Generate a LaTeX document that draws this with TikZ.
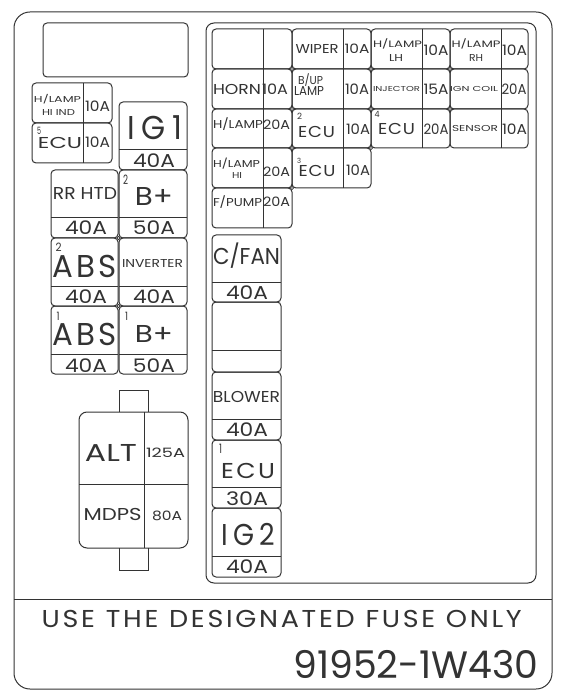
\documentclass[tikz,border=0pt]{standalone}
\usepackage{graphicx}
\usepackage{fontspec}
\setmainfont{Poppins}
\newcommand{\fs}[1]{\fontsize{#1}{#1}\selectfont}
\tikzset{
  fuse/.style={rounded corners=4pt},
  lbl/.style={inner sep=0pt, anchor=base},
  joint/.style={fill=white, line width=0.7pt},
}
% text fitted to width w and cap height h, baseline at (x,y)
\newcommand{\T}[6]{\node[lbl] (#1) at (#2,#3) {\resizebox{#4pt}{#5pt}{\fs{10}\smash{#6}\vphantom{H}}};}
% horizontal fuse cell: x1, xd, x2, y1, y2
\newcommand{\HF}[5]{%
  \draw[fuse] (#1,#4) rectangle (#3,#5);
  \draw (#2,#4) -- (#2,#5);
}
% vertical fuse cell: x1, x2, y1, yd, y2
\newcommand{\VF}[5]{%
  \draw[fuse] (#1,#3) rectangle (#2,#5);
  \draw (#1,#4) -- (#2,#4);
}
\begin{document}
\begin{tikzpicture}[x=1pt,y=-1pt,line width=1pt,color=black!80]
\useasboundingbox (0,0) rectangle (562,700);
\fill[white] (0,0) rectangle (562,700);
% outer label
\draw[rounded corners=16pt] (14,12) rectangle (552,689);
\draw (14,599) -- (552,599);
\T{warn}{281.7}{627.3}{480}{17}{U\kern1pt S\kern1pt E\kern4pt T\kern1pt H\kern1pt E\kern4pt D\kern1pt E\kern1pt S\kern1pt I\kern1pt G\kern1pt N\kern1pt A\kern1pt T\kern1pt E\kern1pt D\kern4pt F\kern1pt U\kern1pt S\kern1pt E\kern4pt O\kern1pt N\kern1pt L\kern1pt Y}
\T{code}{415.8}{678.3}{245}{26.6}{91952-1W430}
% top-left empty
\draw[fuse] (43,23) rectangle (188,77);
% left small block
\HF{32}{83}{112}{83}{123}
\HF{32}{83}{112}{123}{163}
\T{hla}{57.5}{102.7}{47}{6}{H/LAMP}
\T{hlb}{58.5}{116}{33}{6}{HI IND}
\T{hlv}{97.5}{112}{25}{10}{10A}
\T{ecuf}{60}{149}{44}{11}{ECU}
\T{sf}{39}{135}{4}{7}{5}
\T{ecufv}{97.5}{148}{25}{10}{10A}
% IG1 and pairs
\VF{119}{187}{102}{150}{170}
\VF{51}{118}{170}{218}{238}
\VF{119}{187}{170}{218}{238}
\VF{51}{118}{238}{286}{306}
\VF{119}{187}{238}{286}{306}
\VF{51}{118}{306}{354}{374}
\VF{119}{187}{306}{354}{374}
\T{igone}{155}{140}{54}{23}{I\kern2pt G\kern2pt 1}
\T{igonev}{154}{168}{42}{13}{40A}
\T{rr}{85}{200}{64}{12}{RR HTD}
\T{rrv}{86}{235}{42}{13}{40A}
\T{bpb}{154}{206}{38}{18}{B+}
\T{sbpb}{125.5}{185}{5}{9}{2}
\T{bpbv}{154}{235}{42}{13}{50A}
\T{absb}{85}{277}{64}{22}{A\kern1pt B\kern1pt S}
\T{sabsb}{58.5}{252}{6}{8}{2}
\T{absbv}{86}{303}{42}{13}{40A}
\T{inv}{152.5}{268}{61}{8}{INVERTER}
\T{invv}{154}{303}{42}{13}{40A}
\T{absa}{85}{345}{64}{22}{A\kern1pt B\kern1pt S}
\T{sabsa}{58}{320}{3}{8}{1}
\T{absav}{86}{372}{42}{13}{40A}
\T{bpa}{154}{342}{38}{17}{B+}
\T{sbpa}{126.5}{320}{3}{8}{1}
\T{bpav}{154}{372}{42}{13}{50A}
\draw[joint] (118.5,238) circle (1.6);
\draw[joint] (118.5,306) circle (1.6);
% ALT / MDPS
\draw (119,412) -- (119,390) -- (148,390) -- (148,412);
\draw (119,548) -- (119,570) -- (148,570) -- (148,548);
\draw[rounded corners=8pt] (79,412) rectangle (188,548);
\draw (144,412) -- (144,548);
\draw (79,484) -- (188,484);
\T{alt}{111}{461}{52}{17}{ALT}
\T{altv}{165.5}{457}{39}{9}{125A}
\T{mdps}{112.5}{520}{58}{12}{MDPS}
\T{mdpsv}{167}{520}{30}{9}{80A}
% right frame
\draw[rounded corners=8pt] (206,23) rectangle (536,583);
% grid
\HF{212}{263}{292}{29}{69}
\HF{292}{343}{371}{29}{69}
\HF{371}{422}{450}{29}{69}
\HF{450}{501}{528}{29}{69}
\HF{212}{263}{292}{69}{109}
\HF{292}{343}{371}{69}{109}
\HF{371}{422}{450}{69}{109}
\HF{450}{501}{528}{69}{109}
\HF{212}{263}{292}{109}{148}
\HF{292}{343}{371}{109}{148}
\HF{371}{422}{450}{109}{148}
\HF{450}{501}{528}{109}{148}
\HF{212}{263}{292}{148}{188}
\HF{292}{343}{371}{148}{188}
\HF{212}{263}{292}{188}{228}
\foreach \p in {(292,69),(371,69),(450,69),(292,109),(371,109),(450,109),(292,148),(371,148),(292,188)}
  \draw[joint] \p circle (1.6);
\T{wip}{317}{54}{43}{9}{WIPER}
\T{wipv}{357}{54}{25}{9}{10A}
\T{lha}{397.5}{48}{49}{6.5}{H/LAMP}
\T{lhb}{396}{61.5}{14}{7}{LH}
\T{lhv}{436}{56}{25}{10}{10A}
\T{rha}{476}{48}{49}{6.5}{H/LAMP}
\T{rhb}{476}{61.5}{14}{7}{RH}
\T{rhv}{514.5}{56}{25}{10}{10A}
\T{horn}{237}{95}{48}{10}{HORN}
\T{hornv}{275}{95}{26}{10}{10A}
\T{bupa}{310.5}{84.5}{25}{8}{B/UP}
\T{bupb}{309}{95.5}{30}{9}{LAMP}
\T{bupv}{357}{95}{24}{10}{10A}
\T{inj}{396.5}{91.7}{47}{5}{INJECTOR}
\T{injv}{436}{95}{25}{10}{15A}
\T{ign}{474}{91.7}{48}{5}{IGN COIL}
\T{ignv}{514}{95}{25}{10}{20A}
\T{hlc}{238}{128.3}{50}{8}{H/LAMP}
\T{hlcv}{276.5}{130}{27}{9}{20A}
\T{ecub}{316.5}{137.3}{37}{11}{E\kern0.5pt C\kern0.5pt U}
\T{secub}{299.5}{120}{5}{6}{2}
\T{ecubv}{358}{135}{24}{10}{10A}
\T{ecud}{396.5}{135}{37}{11}{E\kern0.5pt C\kern0.5pt U}
\T{secud}{377}{118}{5}{6}{4}
\T{ecudv}{436}{135}{25}{10}{20A}
\T{sens}{475}{131.7}{46}{6}{SENSOR}
\T{sensv}{514.5}{135}{25}{10}{10A}
\T{hhia}{236.5}{167.3}{47}{7}{H/LAMP}
\T{hhib}{237}{178.3}{10}{6}{HI}
\T{hhiv}{276.5}{176.7}{27}{9}{20A}
\T{ecuc}{317}{177}{37}{11}{E\kern0.5pt C\kern0.5pt U}
\T{secuc}{299}{164}{4}{5}{3}
\T{ecucv}{358}{176}{24}{10}{10A}
\T{fp}{237.5}{206.7}{49}{8}{F/PUMP}
\T{fpv}{276.5}{207}{27}{9}{20A}
% right big fuses
\VF{212}{281}{235}{282}{302}
\VF{212}{281}{302}{350}{372}
\VF{212}{281}{372}{419}{440}
\VF{212}{281}{440}{487}{508}
\VF{212}{281}{508}{556}{577}
\T{cfan}{246.5}{265}{67}{16}{C/FAN}
\T{cfanv}{247}{299.3}{42}{13}{40A}
\T{blow}{246.5}{402.7}{67}{11}{BLOWER}
\T{blowv}{247}{436}{42}{13}{40A}
\T{ecua}{248}{478.3}{54}{15}{E\kern1pt C\kern1pt U}
\T{secua}{220.5}{453}{3}{9}{1}
\T{ecuav}{247}{505}{42}{13}{30A}
\T{igtwo}{248}{545}{54}{21}{I\kern2pt G\kern2pt 2}
\T{igtwov}{247}{573.3}{42}{13}{40A}
\end{tikzpicture}
\end{document}
